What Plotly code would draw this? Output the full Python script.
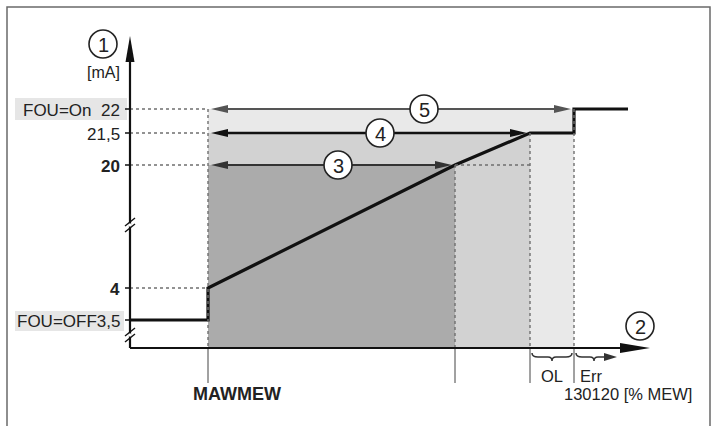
import numpy as np
import plotly.graph_objects as go

# ---------------- data ----------------
levels_mA = [3.5, 4.0, 20.0, 21.5, 22.0]
level_labels = ["FOU=OFF3,5", "4", "20", "21,5", "FOU=On  22"]
level_bold = [False, True, True, False, False]

range_pct = [0, 100, 120, 130]          # MAW, MEW, OL limit, Err limit
curve_pct = [-32, 0, 0, 100, 120, 130, 130, 152]
curve_mA = [3.5, 3.5, 4.0, 20.0, 21.5, 21.5, 22.0, 22.0]

region_ids = ["3", "4", "5"]
region_end_pct = [100, 120, 130]
region_top_mA = [20.0, 21.5, 22.0]

x_label_left = "MAWMEW"
x_label_right = "130120 [% MEW]"
y_unit = "[mA]"

# ---------------- schematic (non-linear) scales ----------------
Y_ANCHOR_mA = [3.0, 3.5, 4.0, 20.0, 21.5, 22.0]
Y_ANCHOR_PX = [348, 320, 288, 165, 133, 109]
X_ANCHOR_PCT = [-32, 0, 100, 120, 130, 152]
X_ANCHOR_PX = [130, 208, 455, 530, 574, 628]


def X(p):
    return float(np.interp(p, X_ANCHOR_PCT, X_ANCHOR_PX))


def Y(v):
    return float(np.interp(v, Y_ANCHOR_mA, Y_ANCHOR_PX))


FONT = "Liberation Sans, Arial, sans-serif"
X0 = X(-32)
Y0 = Y(3.0)

shapes = []
annotations = []

# outer frame
shapes.append(dict(type="rect", x0=7, y0=7, x1=710, y1=445,
                   line=dict(color="#6a6a6a", width=1.5), layer="below"))

# shaded regions (largest first)
fills = ["#ababab", "#d2d2d2", "#e9e9e9"]
for end, top, col in reversed(list(zip(region_end_pct, region_top_mA, fills))):
    shapes.append(dict(type="rect", x0=X(0), x1=X(end), y0=Y(top), y1=Y0,
                       fillcolor=col, line=dict(width=0), layer="below"))

dot = dict(color="#6f6f6f", width=1.4, dash="dot")
# horizontal dotted guides from axis to MAW
for v in levels_mA[1:]:
    shapes.append(dict(type="line", x0=X0, x1=X(0), y0=Y(v), y1=Y(v), line=dot))
# dotted continuation of 20 mA to 120 %
shapes.append(dict(type="line", x0=X(100), x1=X(120), y0=Y(20), y1=Y(20), line=dot))
# vertical dotted guides
for p, top in zip(range_pct, [22.0, 20.0, 21.5, 22.0]):
    shapes.append(dict(type="line", x0=X(p), x1=X(p), y0=Y(top), y1=Y0, line=dot))
# solid ticks under the x axis
for p in range_pct:
    shapes.append(dict(type="line", x0=X(p), x1=X(p), y0=Y0, y1=Y0 + 35,
                       line=dict(color="#444", width=1)))

# axes
axis_line = dict(color="#111", width=2.2)
shapes.append(dict(type="line", x0=X0, x1=X0, y0=Y0, y1=52, line=axis_line))
shapes.append(dict(type="line", x0=X0, x1=628, y0=Y0, y1=Y0, line=axis_line))
shapes.append(dict(type="path", path=f"M {X0} 36 L {X0-4.5} 62 L {X0+4.5} 62 Z",
                   fillcolor="#111", line=dict(width=0)))
shapes.append(dict(type="path", path=f"M 650 {Y0} L 620 {Y0-5} L 620 {Y0+5} Z",
                   fillcolor="#111", line=dict(width=0)))
# y ticks
for v in levels_mA:
    shapes.append(dict(type="line", x0=X0 - 5, x1=X0, y0=Y(v), y1=Y(v),
                       line=dict(color="#111", width=1.5)))
# axis break marks
for yb in [225, 335]:
    for off in (-3, 3):
        shapes.append(dict(type="line", x0=X0 - 5, x1=X0 + 5, y0=yb + off + 4,
                           y1=yb + off - 4, line=dict(color="#111", width=1.5)))
    shapes.append(dict(type="rect", x0=X0 - 1, x1=X0 + 1, y0=yb - 1.5, y1=yb + 1.5,
                       fillcolor="white", line=dict(width=0)))

# label background boxes
shapes.append(dict(type="rect", x0=15, x1=127, y0=Y(22) - 11, y1=Y(22) + 11,
                   fillcolor="#e6e6e6", line=dict(width=0), layer="below"))
shapes.append(dict(type="rect", x0=15, x1=124, y0=Y(3.5) - 9, y1=Y(3.5) + 11,
                   fillcolor="#e6e6e6", line=dict(width=0), layer="below"))

# range arrows 3,4,5
arrow_styles = {"3": ("#333", 2.0), "4": ("#111", 2.6), "5": ("#555", 2.0)}
circle_pos = {"3": 338, "4": 380, "5": 424}
for rid, end, top in zip(region_ids, region_end_pct, region_top_mA):
    col, w = arrow_styles[rid]
    ya = Y(top)
    xs, xe = X(0) + 3, X(end) - 3
    shapes.append(dict(type="line", x0=xs + 8, x1=xe - 8, y0=ya, y1=ya,
                       line=dict(color=col, width=w)))
    shapes.append(dict(type="path", path=f"M {xs} {ya} L {xs+17} {ya-4} L {xs+17} {ya+4} Z",
                       fillcolor=col, line=dict(width=0)))
    shapes.append(dict(type="path", path=f"M {xe} {ya} L {xe-17} {ya-4} L {xe-17} {ya+4} Z",
                       fillcolor=col, line=dict(width=0)))

# numbered circles
circles = [("1", 103, 44), ("2", 640, 326)] + [(r, circle_pos[r], Y(t)) for r, t in zip(region_ids, region_top_mA)]
for txt, cx, cy in circles:
    r = 14
    shapes.append(dict(type="circle", x0=cx - r, x1=cx + r, y0=cy - r, y1=cy + r,
                       fillcolor="white", line=dict(color="#222", width=1.6)))
    annotations.append(dict(x=cx, y=cy + 1, text=txt, showarrow=False,
                            font=dict(family=FONT, size=20, color="#222"),
                            xanchor="center", yanchor="middle"))

# braces under x axis (OL, Err)
by = Y0 + 9
xa, xb = X(120) + 2, X(130) - 2
xm = (xa + xb) / 2
shapes.append(dict(type="path",
                   path=f"M {xa} {by-4} Q {xa} {by} {xa+6} {by} L {xm-4} {by} Q {xm} {by} {xm} {by+4} "
                        f"Q {xm} {by} {xm+4} {by} L {xb-6} {by} Q {xb} {by} {xb} {by-4}",
                   line=dict(color="#333", width=1.5)))
xa2 = X(130) + 2
xm2 = xa2 + 18
shapes.append(dict(type="path",
                   path=f"M {xa2} {by-4} Q {xa2} {by} {xa2+6} {by} L {xm2-4} {by} Q {xm2} {by} {xm2} {by+4} "
                        f"Q {xm2} {by} {xm2+4} {by} L {xa2+30} {by}",
                   line=dict(color="#333", width=1.5)))
shapes.append(dict(type="path", path=f"M {xa2+41} {by} L {xa2+28} {by-4} L {xa2+28} {by+4} Z",
                   fillcolor="#333", line=dict(width=0)))

# y labels
for v, lab, b in zip(levels_mA, level_labels, level_bold):
    annotations.append(dict(x=122, y=Y(v) + 1, text=f"<b>{lab}</b>" if b else lab,
                            showarrow=False, xanchor="right", yanchor="middle",
                            font=dict(family=FONT, size=17, color="#222")))
annotations.append(dict(x=122, y=72, text=y_unit, showarrow=False, xanchor="right",
                        yanchor="middle", font=dict(family=FONT, size=16, color="#222")))

# x labels
annotations.append(dict(x=191, y=394, text=f"<b>{x_label_left}</b>", showarrow=False,
                        xanchor="left", yanchor="middle",
                        font=dict(family=FONT, size=18, color="#222")))
annotations.append(dict(x=562, y=394, text=x_label_right, showarrow=False,
                        xanchor="left", yanchor="middle",
                        font=dict(family=FONT, size=16.5, color="#222")))
annotations.append(dict(x=(X(120) + X(130)) / 2, y=376, text="OL", showarrow=False,
                        xanchor="center", yanchor="middle",
                        font=dict(family=FONT, size=16.5, color="#222")))
annotations.append(dict(x=X(130) + 4, y=376, text="Err", showarrow=False,
                        xanchor="left", yanchor="middle",
                        font=dict(family=FONT, size=16.5, color="#222")))

fig = go.Figure()
fig.add_trace(go.Scatter(x=[X(p) for p in curve_pct], y=[Y(v) for v in curve_mA],
                         mode="lines", line=dict(color="#111", width=3.2),
                         hoverinfo="skip", showlegend=False))

fig.update_layout(
    width=712, height=426,
    margin=dict(l=0, r=0, t=0, b=0),
    paper_bgcolor="white", plot_bgcolor="white",
    xaxis=dict(range=[0, 712], visible=False, fixedrange=True),
    yaxis=dict(range=[426, 0], visible=False, fixedrange=True),
    shapes=shapes, annotations=annotations, showlegend=False,
)

fig.write_html(
    "out.html",
    config={"displayModeBar": False},
    post_script="document.body.style.margin='0';document.body.style.overflow='hidden';",
)
